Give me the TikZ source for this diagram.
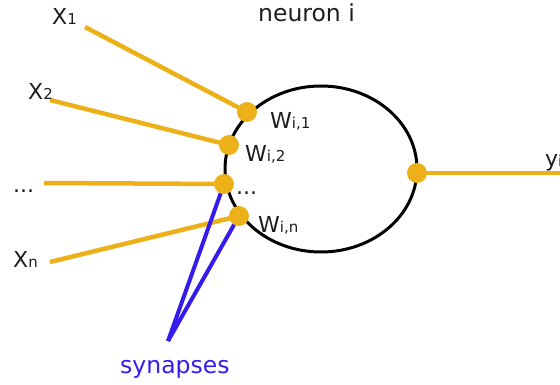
\documentclass[tikz,border=0pt]{standalone}
\usepackage{fontspec}
\setmainfont{DejaVu Sans}
\usetikzlibrary{shapes.geometric}
\definecolor{yel}{RGB}{236,176,24}
\definecolor{blu}{RGB}{52,28,236}
\definecolor{txt}{RGB}{30,30,30}
\newcommand{\sbs}[1]{{\fontsize{15}{15}\selectfont #1}}
\tikzset{
  dot/.style={circle, fill=yel, minimum size=20pt, inner sep=0pt, outer sep=0pt},
  wire/.style={draw=yel, line width=4.5pt},
  syn/.style={draw=blu, line width=4pt},
  lbl/.style={anchor=base west, inner sep=0pt, text=txt, font=\fontsize{22}{22}\selectfont},
  big/.style={anchor=base west, inner sep=0pt, font=\fontsize{23.5}{23.5}\selectfont}
}
\begin{document}
\begin{tikzpicture}[x=1pt,y=-1pt]
\useasboundingbox (0,0) rectangle (560,385);
% neuron body
\node[ellipse, draw=black, line width=3pt, minimum width=192pt, minimum height=166pt, inner sep=0pt] (body) at (321,169) {};
% free ends
\coordinate (i1) at (85,27);
\coordinate (i2) at (50,100);
\coordinate (i3) at (44,183);
\coordinate (i4) at (50,262);
\coordinate (out) at (562,173);
\coordinate (sy) at (168,341);
% synapse dot positions
\path (247,112) coordinate (c1) (229,145) coordinate (c2) (224,184) coordinate (c3) (239,216) coordinate (c4) (417,173) coordinate (c5);
\draw[wire] (i1) -- (c1);
\draw[wire] (i2) -- (c2);
\draw[wire] (i3) -- (c3);
\draw[wire] (i4) -- (c4);
\draw[wire] (c5) -- (out);
\node[dot] (s1) at (c1) {};
\node[dot] (s2) at (c2) {};
\node[dot] (s3) at (c3) {};
\node[dot] (s4) at (c4) {};
\node[dot] (s5) at (c5) {};
\draw[syn] (sy) -- (s3);
\draw[syn] (sy) -- (s4);
% labels
\node[big, text=txt] (title) at (258,22) {neuron i};
\node[lbl] (x1) at (52,25) {X\sbs{1}};
\node[lbl] (x2) at (28,100) {X\sbs{2}};
\node[lbl] (xd) at (13,193) {...};
\node[lbl] (xn) at (13,267) {X\sbs{n}};
\node[lbl] (w1) at (270,129) {W\sbs{i,1}};
\node[lbl] (w2) at (245,162) {W\sbs{i,2}};
\node[lbl] (wd) at (236,195) {...};
\node[lbl] (wn) at (258,233) {W\sbs{i,n}};
\node[lbl] (y) at (545,167) {y\sbs{i}};
\node[big, text=blu] (synl) at (120,373) {synapses};
\end{tikzpicture}
\end{document}
